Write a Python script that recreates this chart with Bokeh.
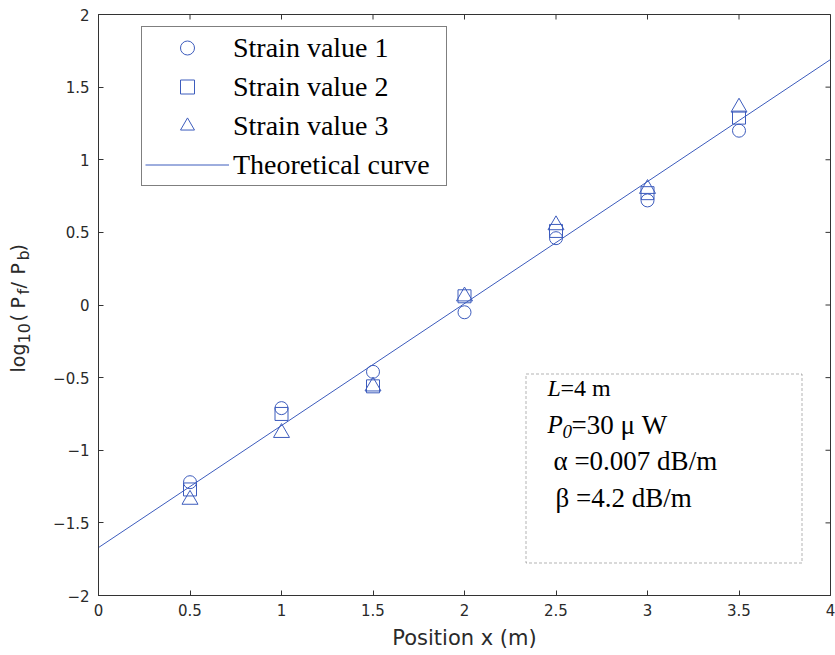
import math
from bokeh.plotting import figure
from bokeh.layouts import row
from bokeh.models import Legend, LegendItem, FixedTicker, Label, BoxAnnotation, Range1d
from bokeh.core.properties import value
from bokeh.embed import file_html
from bokeh.resources import INLINE

# ---------------- data ----------------
positions = [0.5, 1.0, 1.5, 2.0, 2.5, 3.0, 3.5]
strain1 = [-1.22, -0.71, -0.46, -0.05, 0.46, 0.72, 1.20]
strain2 = [-1.27, -0.75, -0.56, 0.06, 0.51, 0.77, 1.29]
strain3 = [-1.34, -0.88, -0.56, 0.06, 0.55, 0.80, 1.36]
theory_x = [0.0, 4.0]
theory_y = [-1.67, 1.69]

series_labels = ["Strain value 1", "Strain value 2", "Strain value 3", "Theoretical curve"]

x_ticks = [0, 0.5, 1, 1.5, 2, 2.5, 3, 3.5, 4]
y_ticks = [-2, -1.5, -1, -0.5, 0, 0.5, 1, 1.5, 2]
y_tick_labels = ["\u22122", "\u22121.5", "\u22121", "\u22120.5", "0", "0.5", "1", "1.5", "2"]

info_lines = ["=4 m", "=30 \u03bc W", "\u03b1 =0.007 dB/m", "\u03b2 =4.2 dB/m"]

# ---------------- styling ----------------
BLUE = "#3d5cbd"
AX = "#333333"
TXT = "#2a2a2a"
SANS = "DejaVu Sans"
SERIF = "Liberation Serif"
W, H = 835, 655
LW = 50  # width of the strip that carries the y-axis title
TOP, BOTTOM = 14, 60

p = figure(width=W - LW, height=H, x_range=Range1d(0, 4), y_range=Range1d(-2, 2),
           output_backend="svg", toolbar_location=None,
           min_border_left=98 - LW, min_border_right=5,
           min_border_top=TOP, min_border_bottom=BOTTOM)
p.background_fill_color = "white"
p.border_fill_color = "white"
p.outline_line_color = AX
p.xgrid.visible = False
p.ygrid.visible = False

xax = p.below[0]
yax = p.left[0]
for ax, tk in ((xax, x_ticks), (yax, y_ticks)):
    ax.ticker = FixedTicker(ticks=tk)
    ax.major_tick_in = 5
    ax.major_tick_out = 0
    ax.minor_tick_in = 0
    ax.minor_tick_out = 0
    ax.axis_line_color = AX
    ax.major_tick_line_color = AX
    ax.major_tick_line_width = 1
    ax.major_label_text_font = SANS
    ax.major_label_text_font_size = "15px"
    ax.major_label_text_color = TXT
xax.major_label_standoff = 8
yax.major_label_standoff = 9
yax.major_label_overrides = {(int(t) if float(t).is_integer() else t): lab
                             for t, lab in zip(y_ticks, y_tick_labels)}

xax.axis_label = "Position x (m)"
xax.axis_label_text_font = SANS
xax.axis_label_text_font_size = "21px"
xax.axis_label_text_font_style = "normal"
xax.axis_label_text_color = TXT
xax.axis_label_standoff = 7

# mirror ticks on the top and right edges (half of each dash is clipped by the frame)
p.scatter(x_ticks, [y_ticks[-1]] * len(x_ticks), marker="dash", size=10, angle=math.pi / 2,
          line_color=AX, line_width=1)
p.scatter([x_ticks[-1]] * len(y_ticks), y_ticks, marker="dash", size=10, angle=0,
          line_color=AX, line_width=1)

# ---------------- glyphs ----------------
r1 = p.scatter(positions, strain1, marker="circle", size=13, fill_color=None,
               line_color=BLUE, line_width=1)
r2 = p.scatter(positions, strain2, marker="square", size=13, fill_color=None,
               line_color=BLUE, line_width=1)
r3 = p.scatter(positions, strain3, marker="triangle", size=16, fill_color=None,
               line_color=BLUE, line_width=1)
rl = p.line(theory_x, theory_y, line_color=BLUE, line_width=1)

legend = Legend(items=[LegendItem(label=series_labels[0], renderers=[r1]),
                       LegendItem(label=series_labels[1], renderers=[r2]),
                       LegendItem(label=series_labels[2], renderers=[r3]),
                       LegendItem(label=series_labels[3], renderers=[rl])],
                location=(43, 409))
legend.label_text_font = SERIF
legend.label_text_font_size = "28px"
legend.label_text_color = "black"
legend.border_line_color = "black"
legend.border_line_width = 1
legend.background_fill_color = "white"
legend.background_fill_alpha = 1
legend.padding = 3
legend.margin = 0
legend.spacing = 4
legend.glyph_width = 84
legend.glyph_height = 35
legend.label_height = 35
legend.label_width = 210
legend.label_standoff = 4
p.add_layout(legend)

# ---------------- parameter box ----------------
def dx(px):
    return (px - 98.0) / 183.0

def dy(py):
    return 2.0 - (py - 14.0) / 145.25

p.add_layout(BoxAnnotation(left=dx(525.5), right=dx(801.5), top=dy(373.5), bottom=dy(562.5),
                           fill_color=None, line_color="black", line_width=1, line_dash="3 2"))

def info(x, y, text, size, italic=False, xo=0):
    p.add_layout(Label(x=x, y=y, x_offset=xo, text=text, text_font=SERIF,
                       text_font_size=size, text_baseline="alphabetic",
                       text_font_style="italic" if italic else "normal",
                       text_color="black"))

bx = dx(547)
info(bx, dy(387), "L", "24px", italic=True)
info(bx, dy(387), info_lines[0], "24px", xo=13)
info(bx, dy(424), "P", "25px", italic=True)
info(bx, dy(431), "0", "19px", italic=True, xo=15)
info(bx, dy(424), info_lines[1], "27px", xo=24)
info(dx(553), dy(460), info_lines[2], "27px")
info(dx(555), dy(497), info_lines[3], "27px")

# ---------------- y-axis title strip (log10(Pf/Pb) with subscripts) ----------------
q = figure(width=LW, height=H, x_range=Range1d(0, LW), y_range=Range1d(-2, 2),
           output_backend="svg", toolbar_location=None,
           x_axis_location=None, y_axis_location=None,
           min_border_left=0, min_border_right=0,
           min_border_top=TOP, min_border_bottom=BOTTOM)
q.outline_line_color = None
q.xgrid.visible = False
q.ygrid.visible = False
q.background_fill_color = "white"
q.border_fill_color = "white"

main_parts = [("log", 372, 17), ("(", 321, 17), ("P", 308, 17), ("/", 288, 17),
              ("P", 274, 17), (")", 251, 17)]
sub_parts = [("10", 343, 23), ("f", 294, 23), ("b", 260, 23)]
for parts, fs in ((main_parts, "19px"), (sub_parts, "16px")):
    q.text(x=[sx for _, _, sx in parts], y=[dy(sy) for _, sy, _ in parts],
           text=[t for t, _, _ in parts], angle=math.pi / 2,
           text_align="left", text_baseline="alphabetic",
           text_font=value(SANS), text_font_size=value(fs), text_color=TXT)

layout = row(q, p, spacing=0)
open("out.html", "w").write(file_html(layout, INLINE))
